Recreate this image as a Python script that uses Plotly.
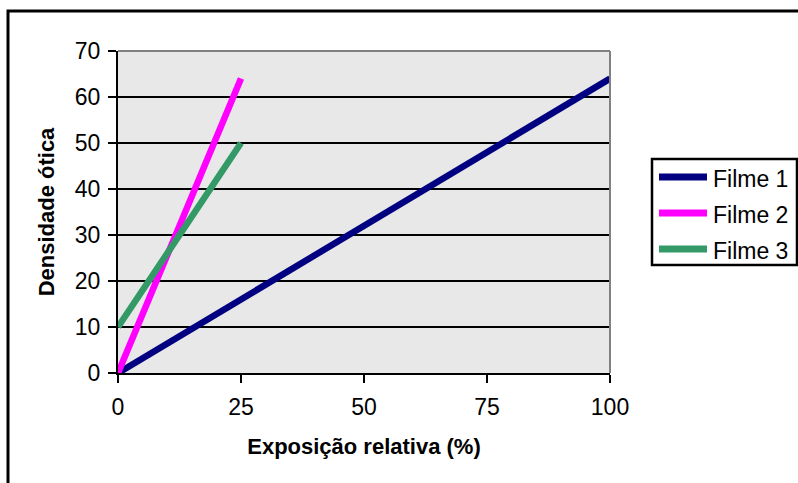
import plotly.graph_objects as go

# Data
series_names = ["Filme 1", "Filme 2", "Filme 3"]
series_x = [[0, 100], [0, 25], [0, 25]]
series_y = [[0, 64], [0, 64], [10, 50]]
series_colors = ["#000080", "#FF00FF", "#339966"]
x_ticks = [0, 25, 50, 75, 100]
y_ticks = [0, 10, 20, 30, 40, 50, 60, 70]
x_title = "Exposição relativa (%)"
y_title = "Densidade ótica"

W, H = 798, 483
L, R, T, B = 118, 188, 51, 110
pw, ph = W - L - R, H - T - B

def px_x(px):
    return (px - L) / pw

def px_y(py):
    return (H - B - py) / ph

FONT = "Liberation Sans, Arial, sans-serif"

fig = go.Figure()
for name, xs, ys, c in zip(series_names, series_x, series_y, series_colors):
    fig.add_trace(go.Scatter(x=xs, y=ys, mode="lines", name=name,
                             line=dict(color=c, width=6.5), showlegend=False))

shapes = []
annotations = []
# outer chart border (left & top visible, right/bottom beyond page)
shapes.append(dict(type="rect", xref="paper", yref="paper",
                   x0=px_x(8), x1=px_x(812), y0=px_y(496), y1=px_y(11),
                   line=dict(color="black", width=3), layer="below"))
# gray plot-area border on top and right
shapes.append(dict(type="line", xref="paper", yref="paper", x0=0, x1=1, y0=1, y1=1,
                   line=dict(color="#808080", width=2), layer="above"))
shapes.append(dict(type="line", xref="paper", yref="paper", x0=1, x1=1, y0=0, y1=1,
                   line=dict(color="#808080", width=2), layer="above"))

# custom legend
lx0, lx1, ly0, ly1 = 652, 797, 159, 265
shapes.append(dict(type="rect", xref="paper", yref="paper",
                   x0=px_x(lx0), x1=px_x(lx1), y0=px_y(ly1), y1=px_y(ly0),
                   line=dict(color="black", width=2.5), fillcolor="white"))
row_y = [177, 213, 249]
for name, c, ry in zip(series_names, series_colors, row_y):
    shapes.append(dict(type="line", xref="paper", yref="paper",
                       x0=px_x(659), x1=px_x(707), y0=px_y(ry), y1=px_y(ry),
                       line=dict(color=c, width=7)))
    annotations.append(dict(xref="paper", yref="paper", x=px_x(711), y=px_y(ry + 2),
                            text=name, showarrow=False, xanchor="left", yanchor="middle",
                            font=dict(family=FONT, size=23, color="black")))

fig.update_layout(
    width=W, height=H,
    margin=dict(l=L, r=R, t=T, b=B, pad=0),
    paper_bgcolor="white",
    plot_bgcolor="#e8e8e8",
    font=dict(family=FONT, size=23, color="black"),
    shapes=shapes,
    annotations=annotations,
    xaxis=dict(range=[0, 100], tickvals=x_ticks, ticks="outside", ticklen=8,
               tickwidth=2, tickcolor="black", showline=True, linecolor="black",
               linewidth=2, showgrid=False, zeroline=False,
               tickfont=dict(family=FONT, size=23), ticklabelstandoff=4,
               title=dict(text="<b>" + x_title + "</b>", standoff=20,
                          font=dict(family=FONT, size=22))),
    yaxis=dict(range=[0, 70], tickvals=y_ticks, ticks="outside", ticklen=8,
               tickwidth=2, tickcolor="black", showline=True, linecolor="black",
               linewidth=2, showgrid=True, gridcolor="black", gridwidth=2,
               zeroline=False, tickfont=dict(family=FONT, size=23),
               ticklabelstandoff=3,
               title=dict(text="<b>" + y_title + "</b>", standoff=14,
                          font=dict(family=FONT, size=22))),
)

fig.write_html("out.html")
